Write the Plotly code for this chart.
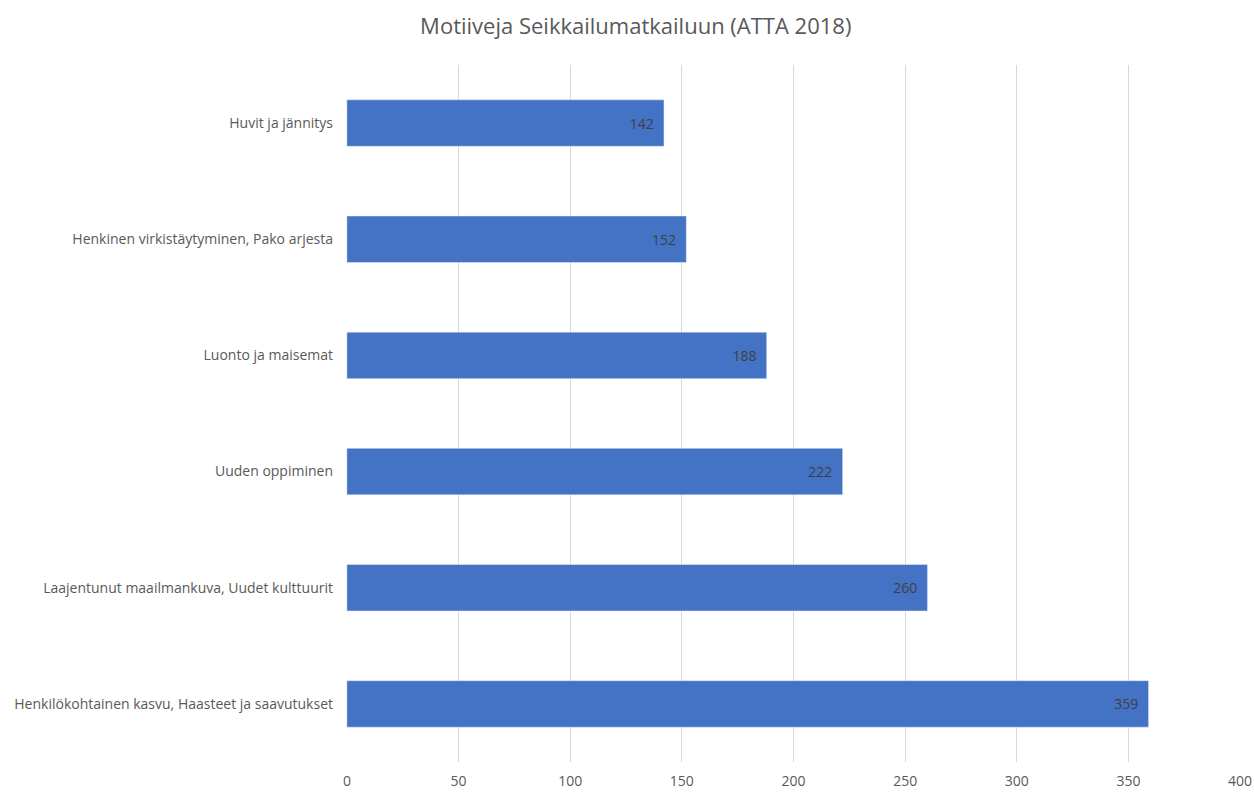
import plotly.graph_objects as go

categories = [
    "Huvit ja jännitys",
    "Henkinen virkistäytyminen, Pako arjesta",
    "Luonto ja maisemat",
    "Uuden oppiminen",
    "Laajentunut maailmankuva, Uudet kulttuurit",
    "Henkilökohtainen kasvu, Haasteet ja saavutukset",
]
values = [142, 152, 188, 222, 260, 359]
x_ticks = [0, 50, 100, 150, 200, 250, 300, 350, 400]

fig = go.Figure(go.Bar(
    x=values, y=categories, orientation="h",
    marker=dict(color="#4472C4"),
    width=0.4,
    texttemplate="%{x}\u00a0\u00a0",
    textposition="inside", insidetextanchor="end",
    textfont=dict(color="#404040", size=14, family="Open Sans"),
))

fig.update_layout(
    width=1254, height=792,
    margin=dict(l=346, r=13, t=65, b=30),
    paper_bgcolor="white", plot_bgcolor="white",
    title=dict(text="Motiiveja Seikkailumatkailuun (ATTA 2018)",
               x=0.507, xanchor="center", y=0.967, yanchor="middle",
               font=dict(family="Open Sans", size=22, color="#595959")),
    font=dict(family="Open Sans", color="#595959"),
    showlegend=False,
)
fig.update_xaxes(range=[-0.4, 400.4], tickvals=x_ticks, showgrid=True,
                 gridcolor="#D9D9D9", gridwidth=1, zeroline=False,
                 showline=False, tickfont=dict(size=14, color="#595959"),
                 ticks="", ticklabelstandoff=9, automargin=False)
fig.update_yaxes(autorange="reversed", showgrid=False, showline=False,
                 ticks="", tickfont=dict(size=14, color="#595959"),
                 ticklabelstandoff=12, automargin=False)

fig.write_html("out.html")
